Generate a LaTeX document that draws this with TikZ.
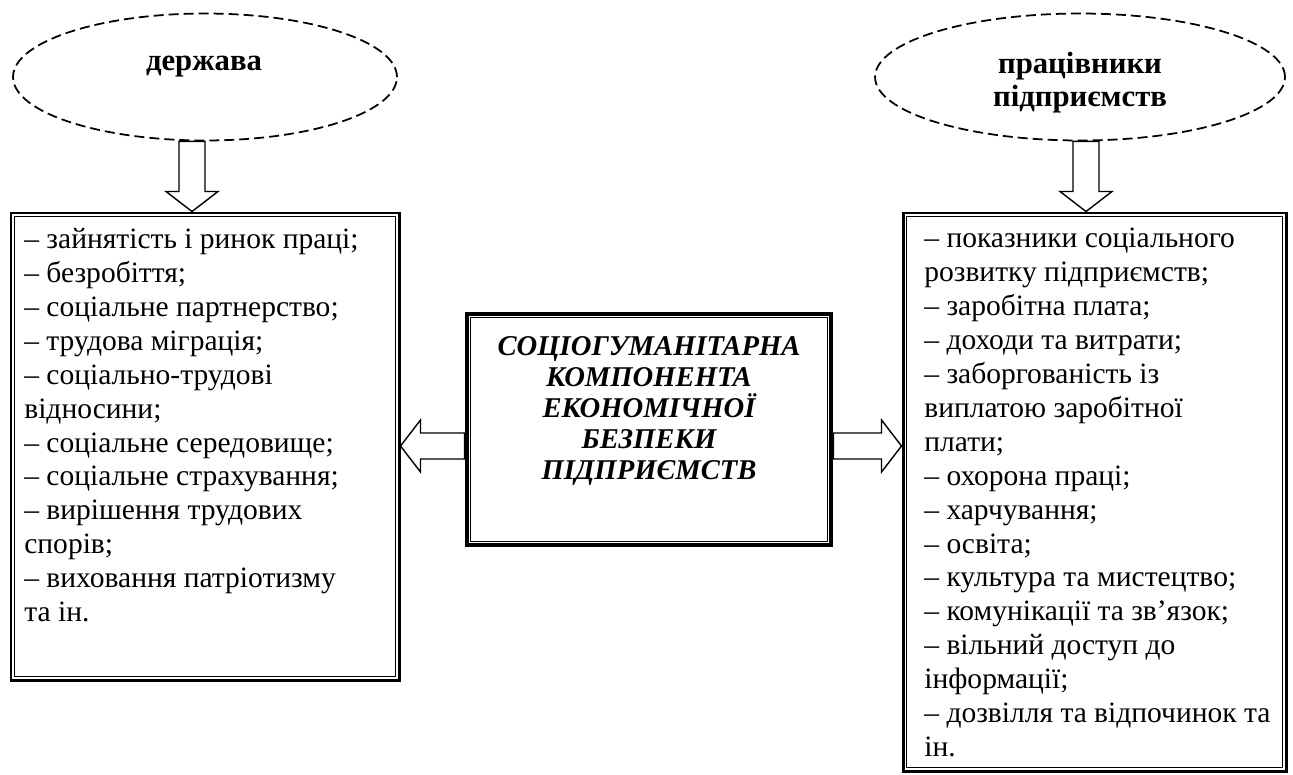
\documentclass[tikz,border=0pt]{standalone}
\usepackage{fontspec}
\setmainfont{Liberation Serif}
\usetikzlibrary{shapes.geometric,calc,fit}

\tikzset{
  dashellipse/.style={ellipse, draw, line width=1pt, dash pattern=on 0.2cm off 0.1cm, inner sep=0pt},
  srctext/.style={align=center, inner sep=0pt, font=\fontsize{17.5}{18.7}\selectfont\bfseries},
  sidebox/.style={draw, line width=1.7pt, inner sep=0pt},
  mainbox/.style={draw, line width=2.8pt, inner sep=0pt},
  listtext/.style={anchor=north west, inner sep=0pt, align=left,
    font=\fontsize{16.8}{19.3}\selectfont},
  % hollow block arrow from start to target
  blockarrow/.style={draw, line width=0.8pt, to path={
    ($(\tikztostart)!0.26cm!90:(\tikztotarget)$)
    -- ($($(\tikztotarget)!0.4cm!(\tikztostart)$)!0.26cm!90:(\tikztotarget)$)
    -- ($($(\tikztotarget)!0.4cm!(\tikztostart)$)!0.52cm!90:(\tikztotarget)$)
    -- (\tikztotarget)
    -- ($($(\tikztotarget)!0.4cm!(\tikztostart)$)!0.52cm!-90:(\tikztotarget)$)
    -- ($($(\tikztotarget)!0.4cm!(\tikztostart)$)!0.26cm!-90:(\tikztotarget)$)
    -- ($(\tikztostart)!0.26cm!-90:(\tikztotarget)$)
    -- cycle}}
}

\begin{document}
\begin{tikzpicture}[x=0.02cm,y=-0.02cm]
\useasboundingbox (0,0) rectangle (1293,774);

% sources
\node[dashellipse, minimum width=7.68cm, minimum height=2.54cm] (dL) at (205,77) {};
\node[srctext] (tL) at (204,67) {держава};
\node[dashellipse, minimum width=8.2cm, minimum height=2.54cm] (dR) at (1080,77) {};
\node[srctext] (tR) at (1080,83) {працівники\\підприємств};

% frames
\node[sidebox, fit={(11,213) (399,680)}] (boxL) {};
\draw[line width=0.8pt] ($(boxL.north west)+(5,5)$) rectangle ($(boxL.south east)+(-5,-5)$);
\node[sidebox, fit={(903,213) (1286,771)}] (boxR) {};
\draw[line width=0.8pt] ($(boxR.north west)+(5,5)$) rectangle ($(boxR.south east)+(-5,-5)$);
\node[mainbox, fit={(467,314) (831,545)}] (boxC) {};
\draw[line width=0.8pt] ($(boxC.north west)+(6,6)$) rectangle ($(boxC.south east)+(-6,-6)$);

% texts
\node[listtext] (listL) at (24,228) {– зайнятість і ринок праці;\\
– безробіття;\\
– соціальне партнерство;\\
– трудова міграція;\\
– соціально-трудові\\
відносини;\\
– соціальне середовище;\\
– соціальне страхування;\\
– вирішення трудових\\
спорів;\\
– виховання патріотизму\\
та ін.};
\node[listtext] (listR) at (924,228) {– показники соціального\\
розвитку підприємств;\\
– заробітна плата;\\
– доходи та витрати;\\
– заборгованість із\\
виплатою заробітної\\
плати;\\
– охорона праці;\\
– харчування;\\
– освіта;\\
– культура та мистецтво;\\
– комунікації та зв’язок;\\
– вільний доступ до\\
інформації;\\
– дозвілля та відпочинок та\\
ін.};
\node[align=center, inner sep=0pt, font=\fontsize{16.3}{17.6}\selectfont\bfseries\itshape] (title) at (649,411)
  {СОЦІОГУМАНІТАРНА\\КОМПОНЕНТА\\ЕКОНОМІЧНОЇ\\БЕЗПЕКИ\\ПІДПРИЄМСТВ};

% arrows
\coordinate (srcL) at ($(dL.south)+(-13,0)$);
\coordinate (srcR) at ($(dR.south)+(6,0)$);
\coordinate (midline) at (0,446);
\draw[blockarrow] (srcL) to (srcL |- boxL.north);
\draw[blockarrow] (srcR) to (srcR |- boxR.north);
\draw[blockarrow] (boxC.west |- midline) to (boxL.east |- midline);
\draw[blockarrow] (boxC.east |- midline) to (boxR.west |- midline);
\end{tikzpicture}
\end{document}
